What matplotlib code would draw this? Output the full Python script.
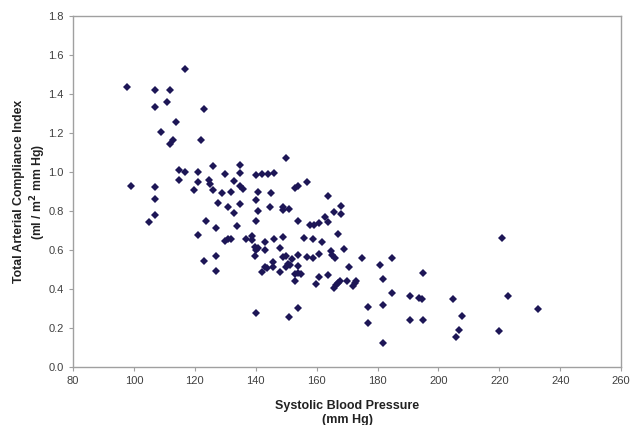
import numpy as np
import matplotlib.pyplot as plt

plt.rcParams['font.family'] = ['Liberation Sans', 'DejaVu Sans']

# Systolic blood pressure (mm Hg) and total arterial compliance index
sbp = [116.8, 97.9, 106.9, 111.8, 110.9, 106.9, 122.9, 113.9, 108.9, 113.0,
       111.8, 121.9, 98.9, 107.0, 107.0, 107.0, 104.9, 114.9, 116.8, 114.9,
       120.9, 125.9, 120.9, 124.8, 124.9, 119.9, 125.9, 127.6, 123.8, 126.8,
       120.9, 122.9, 126.8, 149.8, 134.9, 134.9, 129.9, 132.9, 140.0, 142.0,
       143.9, 145.9, 156.8, 152.9, 153.9, 128.9, 131.8, 134.9, 135.8, 140.9,
       144.9, 130.9, 134.9, 140.0, 132.9, 140.9, 144.8, 148.8, 149.0, 150.8,
       133.9, 140.0, 153.9, 157.9, 159.2, 160.8, 129.9, 130.9, 131.9, 136.9,
       138.9, 138.9, 139.9, 140.9, 142.9, 145.9, 148.9, 155.8, 158.8, 147.9,
       163.8, 167.9, 165.7, 167.9, 162.9, 163.9, 166.9, 161.9, 142.9, 148.9,
       150.0, 151.8, 153.9, 156.8, 158.9, 160.9, 164.6, 165.1, 165.9, 168.9,
       174.8, 184.8, 145.8, 142.9, 143.8, 145.8, 149.8, 150.7, 151.1, 153.9,
       142.0, 147.9, 153.9, 152.8, 154.9, 170.7, 180.9, 160.9, 163.8, 153.0,
       159.9, 167.6, 167.1, 166.3, 165.8, 170.0, 173.0, 172.7, 172.1, 181.9,
       184.8, 154.0, 176.8, 181.9, 220.8, 194.8, 190.7, 193.7, 194.7, 204.8,
       222.7, 232.8, 207.9, 176.8, 190.7, 194.8, 206.8, 205.8, 219.8, 181.9,
       126.9, 140.0, 139.9, 140.0, 150.8]
taci = [1.528, 1.434, 1.422, 1.422, 1.361, 1.332, 1.325, 1.256, 1.207, 1.166,
        1.142, 1.164, 0.927, 0.925, 0.860, 0.779, 0.744, 1.010, 1.000, 0.957,
        1.002, 1.031, 0.950, 0.959, 0.940, 0.906, 0.908, 0.839, 0.749, 0.714,
        0.679, 0.545, 0.571, 1.072, 1.037, 0.995, 0.990, 0.952, 0.983, 0.988,
        0.988, 0.997, 0.947, 0.920, 0.930, 0.894, 0.899, 0.928, 0.914, 0.899,
        0.894, 0.820, 0.837, 0.855, 0.788, 0.800, 0.820, 0.820, 0.807, 0.810,
        0.725, 0.749, 0.750, 0.730, 0.728, 0.740, 0.646, 0.658, 0.656, 0.658,
        0.672, 0.651, 0.617, 0.609, 0.643, 0.656, 0.665, 0.660, 0.655, 0.609,
        0.875, 0.827, 0.795, 0.785, 0.771, 0.745, 0.680, 0.640, 0.600, 0.564,
        0.569, 0.554, 0.576, 0.563, 0.561, 0.578, 0.595, 0.574, 0.560, 0.607,
        0.557, 0.559, 0.538, 0.511, 0.506, 0.511, 0.511, 0.528, 0.523, 0.518,
        0.486, 0.489, 0.482, 0.475, 0.475, 0.514, 0.521, 0.460, 0.470, 0.441,
        0.426, 0.441, 0.432, 0.422, 0.405, 0.443, 0.443, 0.429, 0.417, 0.453,
        0.381, 0.301, 0.308, 0.318, 0.662, 0.480, 0.366, 0.355, 0.347, 0.350,
        0.366, 0.296, 0.263, 0.226, 0.239, 0.239, 0.188, 0.156, 0.183, 0.125,
        0.494, 0.600, 0.569, 0.275, 0.256]

xticks = np.arange(80, 261, 20)
yticks = np.arange(0, 1.81, 0.2)

fig = plt.figure(figsize=(6.33, 4.25), dpi=100)
ax = fig.add_axes([0.1153, 0.1365, 0.866, 0.826])

ax.plot(sbp, taci, linestyle='none', marker='D', markersize=3.8,
        color='#1d1656', markeredgewidth=0)

ax.set_xlim(80, 260)
ax.set_ylim(0, 1.8)
ax.set_xticks(xticks)
ax.set_yticks(yticks)
ax.set_yticklabels(['%.1f' % v for v in yticks])

for s in ax.spines.values():
    s.set_color('#a0a0a0')
    s.set_linewidth(1.0)
ax.tick_params(axis='both', colors='#a0a0a0', labelcolor='#404040',
               labelsize=8, length=3, direction='out')
ax.tick_params(top=False, right=False)

ax.set_xlabel('Systolic Blood Pressure\n(mm Hg)', fontsize=9,
              fontweight='bold', color='#222222', labelpad=10)
ax.set_ylabel('Total Arterial Compliance Index\n(ml / m$^\\mathbf{2}$ mm Hg)',
              fontsize=8.8, fontweight='bold', color='#222222')
ax.yaxis.set_label_coords(-0.046, 0.5)

plt.savefig('out.png', dpi=100)
